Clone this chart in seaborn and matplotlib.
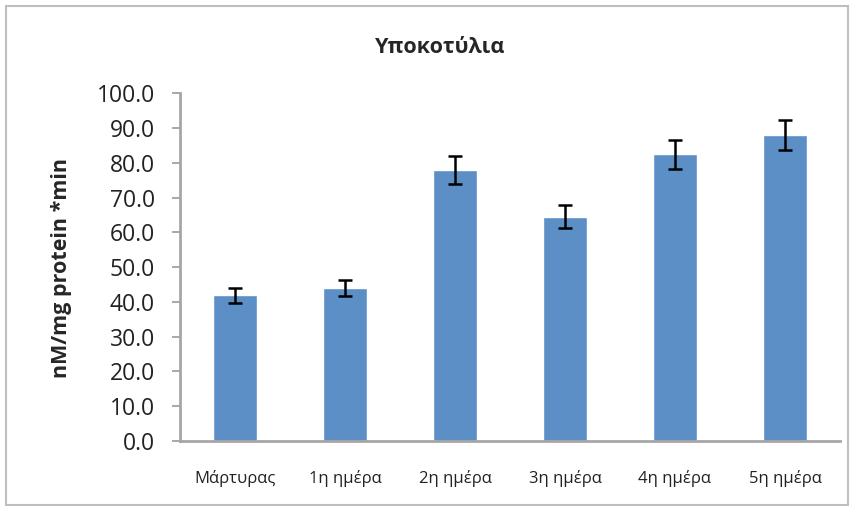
import numpy as np
import pandas as pd
import matplotlib
matplotlib.use("Agg")
import matplotlib.pyplot as plt
import seaborn as sns
from matplotlib.patches import Rectangle

categories = ["Μάρτυρας", "1η ημέρα", "2η ημέρα", "3η ημέρα", "4η ημέρα", "5η ημέρα"]
values = [41.9, 44.1, 78.0, 64.5, 82.4, 88.0]
errors = [2.2, 2.3, 4.0, 3.3, 4.1, 4.4]
yticks = [0, 10, 20, 30, 40, 50, 60, 70, 80, 90, 100]

sns.set_style("white")
plt.rcParams["font.family"] = ["Open Sans", "DejaVu Sans"]

df = pd.DataFrame({"day": categories, "value": values})

fig = plt.figure(figsize=(8.58, 5.11), dpi=100)
ax = fig.add_axes([180 / 858, 70 / 511, 660 / 858, 347.7 / 511])

sns.barplot(data=df, x="day", y="value", color="#5B8FC6", width=0.4,
            saturation=1, errorbar=None, ax=ax)
ax.errorbar(x=np.arange(len(values)), y=values, yerr=errors, fmt="none",
            ecolor="black", elinewidth=1.8, capsize=5, capthick=1.8)

ax.set_xlim(-0.5, len(categories) - 0.5)
ax.set_ylim(0, 100)
ax.set_yticks(yticks)
ax.set_yticklabels([f"{t:.1f}" for t in yticks], fontsize=16.5, color="#222222")
ax.tick_params(axis="y", direction="out", length=6, width=1.2, color="#999999", pad=12, left=True)
ax.tick_params(axis="x", length=0, pad=21, labelsize=12, labelcolor="#222222")
ax.set_xlabel("")
ax.set_ylabel("")

for s in ["top", "right"]:
    ax.spines[s].set_visible(False)
for s in ["left", "bottom"]:
    ax.spines[s].set_color("#A6A6A6")
    ax.spines[s].set_linewidth(2)

fig.text(62 / 858, 1 - 268 / 511, "nM/mg protein *min", rotation=90,
         ha="center", va="center", fontsize=15.5, fontweight="bold")
fig.text(0.513, 1 - 47 / 511, "Υποκοτύλια", ha="center", va="center",
         fontsize=15.5, fontweight="bold")

fig.patches.append(Rectangle((6 / 858, 6 / 511), 842 / 858, 499 / 511,
                             transform=fig.transFigure, fill=False,
                             edgecolor="#BFBFBF", linewidth=1.5))

fig.savefig("out.png", dpi=100)
